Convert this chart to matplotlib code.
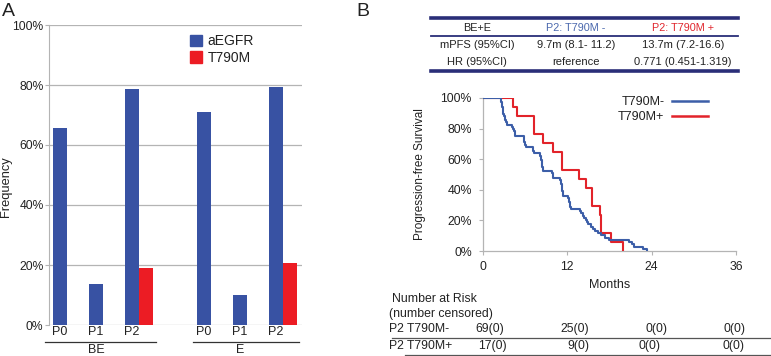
import numpy as np
import matplotlib
matplotlib.use("Agg")
import matplotlib.pyplot as plt
from matplotlib.lines import Line2D
from matplotlib.patches import Patch
from matplotlib.ticker import FuncFormatter
import matplotlib.transforms as mtransforms

plt.rcParams['font.family'] = ['Liberation Sans', 'DejaVu Sans']

# ---------------- data ----------------
categories = ["P0", "P1", "P2", "P0", "P1", "P2"]
groups = ["BE", "E"]
aegfr = [65.7, 13.6, 78.6, 70.9, 10.1, 79.2]
t790m = [np.nan, np.nan, 18.9, np.nan, np.nan, 20.7]
y_ticks_a = [0, 20, 40, 60, 80, 100]

table_header = ["BE+E", "P2: T790M -", "P2: T790M +"]
table_rows = [["mPFS (95%CI)", "9.7m (8.1- 11.2)", "13.7m (7.2-16.6)"],
              ["HR (95%CI)", "reference", "0.771 (0.451-1.319)"]]

# event times (months), one event per entry
neg_events = [2.5, 2.6, 2.7, 2.75, 2.8, 2.85, 2.9, 2.95,
              3.1, 3.2, 3.3, 3.4,
              4.1,
              4.3, 4.4, 4.5, 4.55,
              5.8, 5.85, 5.9, 6.0, 6.05,
              7.1, 7.15, 7.2,
              8.1, 8.2, 8.3, 8.35, 8.4, 8.45, 8.5, 8.6,
              9.8, 9.9, 10.0,
              11.0, 11.1, 11.15, 11.2, 11.25, 11.3, 11.35, 11.4,
              12.1, 12.2, 12.3, 12.35, 12.4, 12.5,
              13.8, 14.0, 14.2, 14.4, 14.6, 14.8, 15.0, 15.3, 15.6,
              16.0, 16.4, 16.8,
              17.3, 17.9,
              20.8, 21.2, 21.5,
              22.8, 23.3]
pos_events = [4.3, 4.8, 7.2, 7.25, 8.5, 9.9, 11.2, 11.25, 13.7, 14.6,
              15.5, 15.55, 16.7, 16.8, 16.85, 18.2, 19.9]
km_xticks = [0, 12, 24, 36]
km_yticks = [0, 0.2, 0.4, 0.6, 0.8, 1.0]

risk_labels = ["P2 T790M-", "P2 T790M+"]
risk_neg = ["69(0)", "25(0)", "0(0)", "0(0)"]
risk_pos = ["17(0)", "9(0)", "0(0)", "0(0)"]

BLUE = "#3852a3"
RED = "#ec1c24"
KM_BLUE = "#3c5ea8"
KM_RED = "#e2232a"
NAVY = "#2a2e78"
GRAY = "#b4b4b4"
TXT = "#222222"

W, H = 771, 356
fig = plt.figure(figsize=(W / 100, H / 100), dpi=100)


def fx(x):
    return x / W


def fy(y):
    return 1 - y / H


# ---------------- Panel A ----------------
axA = fig.add_axes([fx(49), fy(325), fx(302) - fx(49), fy(25) - fy(325)])
xpos = np.array([0, 1, 2, 4, 5, 6], dtype=float)
bw = 0.39
axA.bar(xpos, aegfr, width=bw, color=BLUE, zorder=3, label="aEGFR")
axA.bar(xpos + bw, t790m, width=bw, color=RED, zorder=3, label="T790M")
axA.set_xlim(-0.31, 6.72)
axA.set_ylim(0, 100)
axA.set_yticks(y_ticks_a)
axA.set_yticklabels([f"{v}%" for v in y_ticks_a])
axA.yaxis.grid(True, color=GRAY, lw=0.9, zorder=0)
for s in ["top", "right", "bottom"]:
    axA.spines[s].set_visible(False)
axA.spines["left"].set_color(GRAY)
axA.tick_params(axis="y", length=3, width=0.8, color=GRAY, pad=1,
                labelsize=8.7, labelcolor=TXT)
axA.set_xticks(xpos)
axA.set_xticklabels(categories, fontsize=9, color=TXT)
axA.tick_params(axis="x", length=0, pad=1)
axA.set_ylabel("Frequency", fontsize=9.3, color=TXT)
axA.yaxis.set_label_coords(-0.146, 0.46)

trA = mtransforms.blended_transform_factory(axA.transData, axA.transAxes)
for (x0, x1), gx, g in zip([(-0.42, 2.67), (3.69, 6.64)], [1, 5], groups):
    axA.add_line(Line2D([x0, x1], [-0.057, -0.057], transform=trA,
                        color="#333333", lw=0.9, clip_on=False))
    axA.text(gx, -0.062, g, transform=trA, ha="center", va="top",
             fontsize=9, color=TXT)

legA = axA.legend(handles=[Patch(color=BLUE), Patch(color=RED)],
                  labels=["aEGFR", "T790M"], loc="upper left",
                  bbox_to_anchor=(fx(190), fy(34)),
                  bbox_transform=fig.transFigure, frameon=False,
                  fontsize=10, handlelength=0.85, handleheight=0.85,
                  handletextpad=0.4, labelspacing=0.2, borderpad=0,
                  borderaxespad=0)
for t in legA.get_texts():
    t.set_color(TXT)

fig.text(fx(2), fy(3), "A", fontsize=14, ha="left", va="top", color=TXT)
fig.text(fx(356), fy(3), "B", fontsize=14, ha="left", va="top", color=TXT)

# ---------------- Table ----------------
tx0, tx1 = fx(431), fx(738)
fig.add_artist(Line2D([tx0, tx1], [fy(18), fy(18)], color=NAVY, lw=2.6))
fig.add_artist(Line2D([tx0, tx1], [fy(35.5), fy(35.5)], color=NAVY, lw=1.3))
fig.add_artist(Line2D([tx0, tx1], [fy(71), fy(71)], color=NAVY, lw=2.6))
col_x = [477, 576, 683]
hdr_colors = [TXT, "#4a68ad", "#e0262d"]
for cx, txt, c in zip(col_x, table_header, hdr_colors):
    fig.text(fx(cx), fy(28), txt, ha="center", va="center", fontsize=7.8,
             color=c)
for ry, row in zip([45.5, 62], table_rows):
    for cx, txt in zip(col_x, row):
        fig.text(fx(cx), fy(ry), txt, ha="center", va="center",
                 fontsize=8, color=TXT)

# ---------------- KM ----------------
axB = fig.add_axes([fx(483), fy(251), fx(736) - fx(483), fy(98) - fy(251)])


def km(events):
    ev = np.sort(np.array(events, dtype=float))
    n = len(ev)
    t = np.concatenate([[0.0], ev])
    s = np.concatenate([[1.0], (n - np.arange(1, n + 1)) / n])
    return t, s


t_neg, s_neg = km(neg_events)
t_pos, s_pos = km(pos_events)
axB.step(t_pos, s_pos, where="post", color=KM_RED, lw=1.5, zorder=3,
         label="T790M+")
axB.step(t_neg, s_neg, where="post", color=KM_BLUE, lw=1.5, zorder=4,
         label="T790M-")
axB.set_xlim(0, 36)
axB.set_ylim(0, 1.0)
axB.set_xticks(km_xticks)
axB.set_yticks(km_yticks)
axB.yaxis.set_major_formatter(FuncFormatter(lambda v, p: f"{v * 100:.0f}%"))
for s in ["top", "right"]:
    axB.spines[s].set_visible(False)
for s in ["left", "bottom"]:
    axB.spines[s].set_color(GRAY)
    axB.spines[s].set_linewidth(0.9)
axB.tick_params(length=3, width=0.8, color=GRAY, labelsize=8.8,
                labelcolor=TXT)
axB.tick_params(axis="x", pad=4)
axB.tick_params(axis="y", pad=5)
axB.set_xlabel("Months", fontsize=9, color=TXT)
axB.xaxis.set_label_coords(0.5, -0.185)
axB.set_ylabel("Progression-free Survival", fontsize=8.5, color=TXT)
axB.yaxis.set_label_coords(-0.225, 0.5)

h_neg = Line2D([], [], color=KM_BLUE, lw=1.8)
h_pos = Line2D([], [], color=KM_RED, lw=1.8)
legB = axB.legend([h_neg, h_pos], ["T790M-", "T790M+"], loc="upper right",
                  bbox_to_anchor=(fx(708), fy(96)),
                  bbox_transform=fig.transFigure, frameon=False,
                  fontsize=9, markerfirst=False, handlelength=2.9,
                  handletextpad=0.6, labelspacing=0.25, borderpad=0,
                  borderaxespad=0)
for t in legB.get_texts():
    t.set_color(TXT)

# ---------------- Number at risk ----------------
fs_r = 8.8
fig.text(fx(392), fy(299), "Number at Risk", ha="left", va="center",
         fontsize=fs_r, color=TXT)
fig.text(fx(389), fy(314), "(number censored)", ha="left", va="center",
         fontsize=fs_r, color=TXT)
trB = mtransforms.blended_transform_factory(axB.transData, fig.transFigure)
row_shift = [[1.0, 13.1, 24.7, 35.8], [1.3, 13.5, 23.7, 35.6]]
for ry, lab, vals, xs in zip([329, 346], risk_labels, [risk_neg, risk_pos],
                             row_shift):
    fig.text(fx(389), fy(ry), lab, ha="left", va="center", fontsize=fs_r,
             color=TXT)
    for x, v in zip(xs, vals):
        axB.text(x, fy(ry), v, transform=trB, ha="center", va="center",
                 fontsize=fs_r, color=TXT, clip_on=False)
fig.add_artist(Line2D([fx(392), fx(771)], [fy(337.5), fy(337.5)],
                      color="#555555", lw=0.9))
fig.add_artist(Line2D([fx(405), fx(771)], [fy(354.5), fy(354.5)],
                      color="#555555", lw=0.9))

fig.savefig("out.png", dpi=100)
